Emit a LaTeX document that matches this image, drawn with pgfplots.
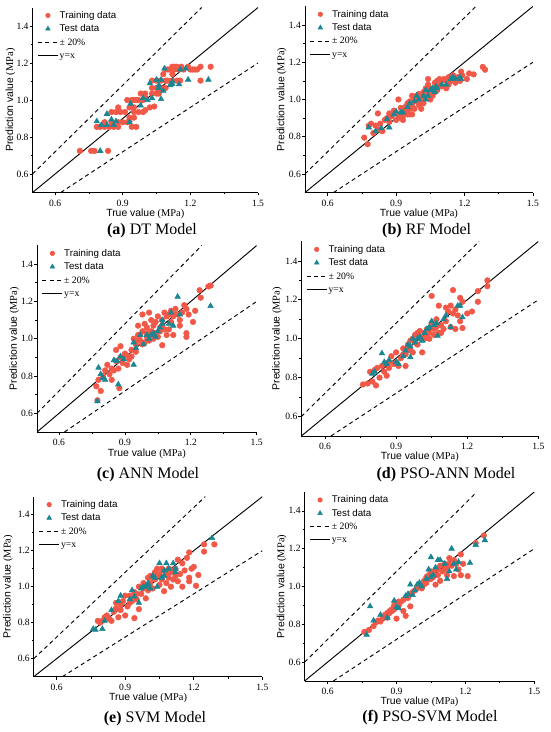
\documentclass[border=0pt]{standalone}
\usepackage{fontspec}
\setmainfont{Liberation Serif}
\newfontfamily\arial{Liberation Sans}
\usepackage{pgfplots}
\pgfplotsset{compat=1.18}
\definecolor{trainred}{RGB}{242,88,72}
\definecolor{testteal}{RGB}{26,134,146}
\pgfplotsset{
  panel/.style 2 args={
    scale only axis, xmin=0.5,xmax=1.5,ymin=0.5,ymax=1.5,
    axis lines=left, axis line style={-, line width=0.6pt},
    xtick={0.6,0.9,1.2,1.5}, ytick={0.6,0.8,1.0,1.2,1.4},
    minor x tick num=1, minor y tick num=1,
    tick align=outside, major tick length=2.2pt, minor tick length=1.4pt,
    tick style={line width=0.5pt, black},
    /pgf/number format/assume math mode=true,
    /pgf/number format/fixed, /pgf/number format/fixed zerofill, /pgf/number format/precision=1,
    tick label style={font=\fontsize{7.2}{8}\selectfont},
    xticklabel style={inner sep=0pt, yshift=-3.2pt},
    yticklabel style={inner sep=0.6pt},
    label style={font=\fontsize{7.8}{9}\selectfont},
    xlabel={{\arial True value} (MPa)},
    ylabel={{\arial Prediction value} (MPa)},
    xlabel style={at={([yshift=-#1]axis description cs:0.5,0)},anchor=center},
    ylabel style={at={([xshift=-#2]axis description cs:0,0.5)},anchor=center},
    legend cell align=left,
    legend style={at={(axis description cs:0,1)}, anchor=north west, xshift=3.5pt, yshift=-1pt,
      draw=none, fill=none, inner sep=0pt, row sep=0.5pt,
      font=\fontsize{7.3}{9}\selectfont,
      nodes={inner sep=1pt,text height=6pt,text depth=1.5pt}},
  },
  trainmk/.style={only marks, mark=*, mark size=2.1pt, color=trainred,
    legend image code/.code={\draw[mark repeat=2,mark phase=2,##1,mark size=1.7pt] plot coordinates {(0pt,0pt)(7.5pt,0pt)(15pt,0pt)};}},
  testmk/.style={only marks, mark=triangle*, mark size=2.4pt, color=testteal,
    legend image code/.code={\draw[mark repeat=2,mark phase=2,##1,mark size=2pt] plot coordinates {(0pt,0pt)(7.5pt,0pt)(15pt,0pt)};}},
  dashln/.style={black, line width=0.7pt, dash pattern=on 3pt off 2.5pt,
    legend image code/.code={\draw[##1] (0pt,0pt) -- (15pt,0pt);}},
  solidln/.style={black, line width=0.7pt,
    legend image code/.code={\draw[##1] (0pt,0pt) -- (15pt,0pt);}},
}
\newcommand{\reflines}{%
  \addplot[dashln] coordinates {(0.5,0.6)(1.25,1.5)};
  \addlegendentry{± 20\%}
  \addplot[dashln,forget plot] coordinates {(0.625,0.5)(1.5,1.2)};
  \addplot[solidln] coordinates {(0.5,0.5)(1.5,1.5)};
  \addlegendentry{y=x}
}
\begin{document}
\begin{tikzpicture}
\useasboundingbox (0,0) rectangle (412.5pt,549pt);
% ---------------- (a) DT
\begin{axis}[panel={16pt}{16.5pt}, at={(24.4pt,404.6pt)}, anchor=south west, width=169.1pt, height=138.75pt]
\addplot[trainmk] coordinates {
(0.71,0.725)(0.76,0.725)(0.775,0.725)(0.835,0.725)
(0.785,0.855)(0.80,0.855)(0.82,0.855)(0.84,0.855)(0.86,0.855)(0.88,0.855)(0.94,0.855)(0.96,0.855)
(0.82,0.88)(0.85,0.88)(0.88,0.88)(0.90,0.88)(0.92,0.88)(0.93,0.885)
(0.85,0.935)(0.87,0.935)(0.89,0.935)(0.91,0.935)(0.95,0.935)(0.97,0.935)(0.99,0.935)
(0.88,0.96)(0.93,0.96)(0.95,0.96)(1.02,0.96)
(0.92,1.0)(0.94,1.0)(0.95,1.0)(0.96,1.0)(0.97,1.0)(0.99,1.0)(1.0,1.01)
(0.98,1.035)(1.0,1.035)(1.03,1.035)(1.05,1.035)(1.06,1.035)
(1.03,1.065)(1.05,1.065)(1.07,1.065)(1.09,1.065)
(1.03,1.105)(1.05,1.105)(1.07,1.105)(1.09,1.105)(1.10,1.105)(1.12,1.105)(1.14,1.105)(1.155,1.105)(1.245,1.105)
(1.08,1.14)(1.12,1.14)
(1.09,1.165)(1.10,1.165)(1.11,1.165)(1.13,1.165)(1.15,1.165)(1.17,1.165)(1.20,1.165)(1.21,1.165)(1.22,1.165)(1.23,1.165)
(1.12,1.18)(1.13,1.18)(1.14,1.18)(1.16,1.18)(1.19,1.18)(1.245,1.18)(1.29,1.18)
(0.93,0.905)(0.95,0.905)(1.0,0.945)(1.04,0.965)(1.06,1.05)
};
\addlegendentry{\arial Training data}
\addplot[testmk] coordinates {
(0.785,0.885)(0.805,0.865)(0.83,0.865)(0.83,0.925)(0.85,0.895)(0.86,0.865)(0.87,0.885)(0.93,0.88)
(0.935,0.98)(0.98,0.97)(0.99,1.01)(1.01,1.0)(1.02,1.09)(1.03,1.01)(1.05,1.11)(1.06,1.065)(1.07,1.11)
(1.08,1.05)(1.07,1.005)(1.085,1.17)(1.11,1.08)(1.12,1.085)(1.15,1.085)(1.155,1.165)(1.18,1.17)
(1.19,1.11)(1.28,1.11)(0.80,0.725)(1.12,1.10)(1.06,1.08)
};
\addlegendentry{\arial Test data}
\reflines
\end{axis}
% ---------------- (b) RF
\begin{axis}[panel={16pt}{17.4pt}, at={(228.7pt,404.55pt)}, anchor=south west, width=171pt, height=139.65pt]
\addplot[trainmk] coordinates {
(0.76,0.795)(0.775,0.76)(0.78,0.86)(0.79,0.87)(0.80,0.82)(0.81,0.86)(0.82,0.84)(0.82,0.925)(0.83,0.87)
(0.84,0.83)(0.85,0.89)(0.86,0.9)(0.87,0.88)(0.88,0.91)(0.89,0.94)(0.90,0.89)(0.91,1.0)(0.91,0.92)
(0.92,0.90)(0.93,0.94)(0.93,0.91)(0.94,0.96)(0.94,0.93)(0.95,0.98)(0.95,0.92)(0.96,0.99)(0.96,0.95)
(0.97,1.02)(0.97,0.97)(0.98,0.95)(0.98,1.0)(0.99,0.99)(1.0,0.97)(1.0,1.03)(1.01,1.0)(1.02,1.01)
(1.02,0.98)(1.03,1.06)(1.03,1.02)(1.04,1.08)(1.04,1.11)(1.05,1.04)(1.05,1.0)(1.06,1.06)(1.06,1.02)
(1.07,1.09)(1.08,1.05)(1.08,1.1)(1.09,1.08)(1.1,1.10)(1.1,1.07)(1.11,1.11)(1.12,1.06)(1.12,1.10)
(1.13,1.12)(1.14,1.10)(1.15,1.13)(1.16,1.09)(1.17,1.12)(1.18,1.10)(1.185,1.15)(1.19,1.13)(1.21,1.11)
(1.22,1.14)(1.24,1.135)(1.28,1.175)(1.29,1.16)
(0.95,0.95)(0.96,0.92)(0.99,1.02)(1.01,0.95)(0.93,0.89)(0.97,0.92)(1.0,0.99)(1.05,1.06)(1.09,1.11)
(1.13,1.08)(0.92,0.955)(0.87,0.925)(1.02,1.04)(1.07,1.04)
};
\addlegendentry{\arial Training data}
\addplot[testmk] coordinates {
(0.78,0.85)(0.81,0.83)(0.835,0.845)(0.86,0.895)(0.87,0.85)(0.89,0.92)(0.90,0.935)(0.92,0.93)(0.93,0.93)
(0.95,0.96)(0.96,0.98)(0.98,0.99)(0.99,1.02)(1.0,1.0)(1.02,1.02)(1.03,1.05)(1.04,1.02)(1.05,1.05)
(1.07,1.04)(1.075,1.07)(1.08,1.06)(1.10,1.08)(1.12,1.08)(1.14,1.11)(1.15,1.12)(1.16,1.11)(1.18,1.12)
(1.185,1.11)(1.03,1.0)(1.06,1.06)
};
\addlegendentry{\arial Test data}
\reflines
\end{axis}
% ---------------- (c) ANN
\begin{axis}[panel={16.5pt}{17pt}, at={(27.75pt,225pt)}, anchor=south west, width=164.8pt, height=139.9pt]
\addplot[trainmk] coordinates {
(0.77,0.745)(0.775,0.67)(0.79,0.72)(0.78,0.78)(0.80,0.80)(0.81,0.83)(0.82,0.86)(0.83,0.81)(0.84,0.84)
(0.84,0.78)(0.85,0.83)(0.86,0.94)(0.86,0.88)(0.87,0.84)(0.875,0.735)(0.88,0.96)(0.88,0.90)(0.89,0.87)
(0.90,0.92)(0.91,0.86)(0.92,0.89)(0.93,0.94)(0.93,0.905)(0.94,1.0)(0.95,0.97)(0.95,0.93)(0.96,1.07)
(0.96,1.02)(0.97,0.99)(0.98,1.04)(0.98,1.13)(0.99,1.08)(0.99,0.98)(1.0,1.06)(1.0,1.01)(1.01,1.14)
(1.01,0.99)(1.02,1.1)(1.02,1.04)(1.03,1.07)(1.03,1.00)(1.04,1.09)(1.04,1.03)(1.05,1.12)(1.05,1.01)
(1.06,1.06)(1.07,0.965)(1.07,1.10)(1.08,1.05)(1.08,1.14)(1.09,1.02)(1.09,1.12)(1.10,1.05)(1.10,1.13)
(1.11,1.09)(1.11,1.15)(1.12,1.12)(1.12,1.02)(1.13,1.16)(1.14,1.13)(1.15,1.07)(1.15,1.10)(1.16,1.14)
(1.17,1.18)(1.18,1.16)(1.18,1.03)(1.18,1.01)(1.19,1.13)(1.21,1.09)(1.22,1.15)(1.24,1.26)(1.245,1.22)
(1.28,1.28)(1.29,1.285)
(0.97,1.02)(1.0,1.03)(1.03,1.03)(1.06,1.04)(1.02,1.02)(0.95,0.99)(1.07,1.07)(1.13,1.13)(0.98,0.97)(0.91,0.91)
};
\addlegendentry{\arial Training data}
\addplot[testmk] coordinates {
(0.775,0.665)(0.78,0.845)(0.79,0.81)(0.80,0.79)(0.81,0.78)(0.85,0.885)(0.865,0.88)(0.87,0.755)
(0.88,0.905)(0.895,0.89)(0.94,0.86)(0.94,0.98)(0.95,0.95)(0.97,1.02)(0.985,0.97)(1.0,1.02)(1.01,1.00)
(1.02,1.02)(1.03,1.03)(1.05,1.04)(1.06,1.06)(1.07,1.08)(1.07,1.10)(1.10,1.08)(1.11,1.14)(1.12,1.07)
(1.14,1.225)(1.15,1.13)(1.29,1.175)(1.04,1.01)
};
\addlegendentry{\arial Test data}
\reflines
\end{axis}
% ---------------- (d) PSO-ANN
\begin{axis}[panel={16pt}{18.2pt}, at={(226pt,222pt)}, anchor=south west, width=177.75pt, height=145.9pt]
\addplot[trainmk] coordinates {
(0.76,0.765)(0.78,0.77)(0.79,0.83)(0.80,0.78)(0.81,0.84)(0.815,0.76)(0.82,0.85)(0.83,0.80)(0.84,0.86)
(0.85,0.83)(0.86,0.81)(0.87,0.88)(0.88,0.91)(0.89,0.87)(0.90,0.93)(0.91,0.86)(0.92,0.90)(0.93,0.95)
(0.94,0.86)(0.94,0.92)(0.95,0.97)(0.96,0.99)(0.97,0.93)(0.97,1.0)(0.98,1.02)(0.99,0.97)(1.0,1.04)
(1.01,0.93)(1.01,1.0)(1.02,1.03)(1.03,1.05)(1.04,1.0)(1.05,1.22)(1.05,1.08)(1.06,1.05)(1.07,1.10)
(1.08,1.17)(1.08,1.03)(1.09,1.07)(1.10,1.05)(1.11,1.16)(1.11,1.09)(1.12,1.14)(1.13,1.06)(1.13,1.17)
(1.14,1.25)(1.14,1.13)(1.15,1.05)(1.15,1.15)(1.16,1.12)(1.17,1.21)(1.17,1.09)(1.18,1.19)(1.18,1.055)
(1.20,1.13)(1.22,1.14)(1.245,1.245)(1.245,1.19)(1.285,1.30)(1.285,1.27)
(0.95,0.95)(0.98,0.98)(1.0,1.01)(1.02,1.0)(1.04,1.03)(0.93,0.92)(0.90,0.88)(0.87,0.85)(0.99,1.03)
(1.06,1.02)(1.09,1.03)(1.03,1.01)(0.96,0.94)(1.07,1.06)
};
\addlegendentry{\arial Training data}
\addplot[testmk] coordinates {
(0.80,0.82)(0.81,0.83)(0.84,0.925)(0.85,0.88)(0.86,0.87)(0.87,0.89)(0.90,0.88)(0.91,0.87)(0.93,0.91)
(0.94,0.94)(0.95,0.97)(0.96,0.96)(0.96,0.905)(0.97,1.0)(0.98,0.98)(0.99,1.0)(1.0,1.01)(1.01,0.99)
(1.02,1.03)(1.03,1.05)(1.04,1.06)(1.05,1.09)(1.06,1.07)(1.07,1.08)(1.075,1.015)(1.10,1.10)(1.11,1.12)
(1.13,1.06)(1.16,1.17)(1.18,1.11)(1.17,1.17)
};
\addlegendentry{\arial Test data}
\reflines
\end{axis}
% ---------------- (e) SVM
\begin{axis}[panel={16pt}{19.4pt}, at={(25.35pt,41.5pt)}, anchor=south west, width=171.4pt, height=135pt]
\addplot[trainmk] coordinates {
(0.78,0.81)(0.79,0.80)(0.80,0.81)(0.81,0.83)(0.82,0.84)(0.83,0.82)(0.84,0.81)(0.85,0.86)(0.86,0.88)
(0.86,0.91)(0.87,0.83)(0.88,0.90)(0.89,0.92)(0.90,0.84)(0.90,0.95)(0.91,0.89)(0.92,0.95)(0.93,0.92)
(0.94,0.825)(0.94,0.97)(0.95,0.93)(0.96,0.875)(0.96,1.0)(0.97,0.96)(0.98,0.99)(0.99,0.935)(1.0,1.05)
(1.0,1.01)(1.01,1.02)(1.02,0.99)(1.03,1.08)(1.03,1.04)(1.04,1.10)(1.04,1.06)(1.05,1.01)(1.06,1.10)
(1.06,1.04)(1.07,0.975)(1.07,1.09)(1.08,1.02)(1.09,1.10)(1.09,1.05)(1.10,1.00)(1.10,1.08)(1.11,1.04)
(1.12,1.10)(1.13,1.15)(1.13,1.03)(1.14,1.07)(1.15,1.00)(1.15,1.13)(1.16,1.09)(1.17,1.16)(1.18,1.19)
(1.18,1.05)(1.18,1.03)(1.19,1.10)(1.20,1.11)(1.21,1.005)(1.22,1.065)(1.245,1.235)(1.245,1.195)(1.29,1.235)
(0.95,0.96)(0.98,1.02)(1.0,0.98)(1.02,1.05)(1.05,1.07)(1.08,1.07)(1.11,1.09)(0.93,0.94)(0.88,0.87)
(0.92,0.91)(1.12,1.06)(1.01,1.06)
};
\addlegendentry{\arial Training data}
\addplot[testmk] coordinates {
(0.76,0.765)(0.77,0.76)(0.80,0.765)(0.81,0.81)(0.84,0.87)(0.87,0.92)(0.88,0.95)(0.92,0.93)(0.93,0.98)
(0.94,0.945)(0.96,0.91)(0.97,0.99)(0.98,1.0)(0.99,1.0)(1.0,1.02)(1.01,0.99)(1.02,1.06)(1.03,1.05)
(1.04,1.0)(1.05,1.13)(1.06,1.05)(1.07,1.09)(1.08,1.13)(1.09,1.10)(1.11,1.13)(1.12,1.08)(1.12,1.10)
(1.28,1.27)(1.00,1.01)(1.07,1.06)
};
\addlegendentry{\arial Test data}
\reflines
\end{axis}
% ---------------- (f) PSO-SVM
\begin{axis}[panel={15.5pt}{17.3pt}, at={(228.5pt,38.25pt)}, anchor=south west, width=172.2pt, height=141.75pt]
\addplot[trainmk] coordinates {
(0.76,0.76)(0.78,0.77)(0.80,0.79)(0.81,0.81)(0.82,0.82)(0.83,0.815)(0.84,0.84)(0.85,0.85)(0.86,0.86)
(0.86,0.835)(0.87,0.87)(0.88,0.88)(0.89,0.88)(0.89,0.90)(0.90,0.91)(0.90,0.83)(0.91,0.90)(0.92,0.92)
(0.93,0.93)(0.93,0.87)(0.94,0.845)(0.94,0.94)(0.95,0.95)(0.96,0.895)(0.96,0.96)(0.97,0.97)(0.98,0.98)
(0.99,0.99)(1.0,1.0)(1.01,0.99)(1.02,1.03)(1.03,1.05)(1.03,1.02)(1.04,1.06)(1.05,1.04)(1.05,1.08)
(1.06,1.07)(1.07,1.01)(1.07,1.09)(1.08,1.06)(1.09,1.11)(1.09,1.03)(1.10,1.08)(1.11,1.12)(1.12,1.06)
(1.12,1.10)(1.13,1.15)(1.14,1.11)(1.15,1.055)(1.15,1.14)(1.16,1.12)(1.17,1.09)(1.18,1.17)(1.18,1.06)
(1.19,1.12)(1.21,1.055)(1.245,1.23)(1.28,1.27)
(0.84,0.83)(0.87,0.86)(0.91,0.92)(0.95,0.94)(0.99,1.0)(1.02,1.01)(1.04,1.04)(1.06,1.05)(1.08,1.09)
(1.11,1.09)(1.13,1.12)(0.88,0.87)
};
\addlegendentry{\arial Training data}
\addplot[testmk] coordinates {
(0.77,0.745)(0.785,0.895)(0.80,0.82)(0.83,0.85)(0.86,0.835)(0.89,0.925)(0.90,0.89)(0.91,0.885)
(0.94,0.95)(0.95,0.96)(0.96,1.01)(0.97,0.955)(0.98,0.98)(0.99,1.01)(1.0,1.02)(1.01,1.0)(1.03,1.04)
(1.04,1.09)(1.05,1.05)(1.05,1.155)(1.06,1.06)(1.07,1.10)(1.08,1.14)(1.09,1.14)(1.11,1.12)(1.12,1.04)
(1.13,1.08)(1.14,1.20)(1.15,1.12)(1.16,1.09)(1.17,1.13)(1.22,1.125)(1.245,1.22)(1.285,1.245)
};
\addlegendentry{\arial Test data}
\reflines
\end{axis}
% captions
\node[font=\fontsize{12}{14}\selectfont] at (114pt,376pt) {\textbf{(a)} DT Model};
\node[font=\fontsize{12}{14}\selectfont] at (320pt,376pt) {\textbf{(b)} RF Model};
\node[font=\fontsize{12}{14}\selectfont] at (111pt,193pt) {\textbf{(c)} ANN Model};
\node[font=\fontsize{12}{14}\selectfont] at (334.5pt,193pt) {\textbf{(d)} PSO-ANN Model};
\node[font=\fontsize{12}{14}\selectfont] at (116.25pt,10pt) {\textbf{(e)} SVM Model};
\node[font=\fontsize{12}{14}\selectfont] at (322.5pt,10.5pt) {\textbf{(f)} PSO-SVM Model};
\end{tikzpicture}
\end{document}
